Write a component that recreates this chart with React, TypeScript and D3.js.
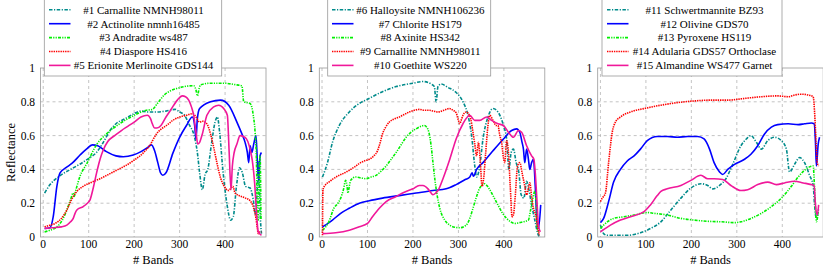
import * as d3 from 'd3';
import { useEffect, useRef } from 'react';

type Pt = [number, number];

// band index, reflectance
const carnallite1: Pt[] = [[3,0.26],[15,0.31],[33,0.355],[60,0.40],[80,0.43],[100,0.465],[117,0.50],[130,0.55],[147,0.63],[160,0.67],[180,0.70],[200,0.73],[215,0.745],[230,0.74],[250,0.74],[270,0.745],[290,0.755],[300,0.74],[311,0.72],[322,0.66],[332,0.60],[339,0.50],[344,0.38],[350,0.28],[356,0.37],[362,0.40],[370,0.55],[378,0.68],[383,0.71],[388,0.62],[395,0.40],[405,0.18],[412,0.10],[418,0.12],[425,0.30],[432,0.41],[438,0.38],[445,0.30],[455,0.29],[462,0.22],[467,0.13],[471,0.30],[474,0.45],[477,0.15],[480,0.02]];
const actinolite: Pt[] = [[3,0.05],[15,0.055],[22,0.12],[30,0.30],[37,0.38],[50,0.41],[63,0.435],[81,0.485],[95,0.52],[108,0.545],[120,0.54],[139,0.505],[160,0.48],[176,0.475],[198,0.485],[215,0.505],[230,0.53],[238,0.545],[245,0.51],[252,0.44],[258,0.38],[263,0.365],[270,0.38],[285,0.495],[300,0.59],[315,0.66],[328,0.71],[333,0.66],[336,0.58],[339,0.70],[344,0.76],[368,0.80],[390,0.81],[408,0.78],[426,0.68],[437,0.61],[444,0.56],[449,0.50],[452,0.44],[455,0.54],[459,0.50],[463,0.55],[468,0.60],[471,0.45],[474,0.33],[477,0.48],[480,0.50]];
const andradite: Pt[] = [[3,0.03],[15,0.04],[30,0.06],[42,0.10],[52,0.16],[60,0.22],[66,0.26],[68,0.24],[72,0.28],[81,0.36],[96,0.435],[117,0.545],[139,0.61],[168,0.67],[200,0.72],[227,0.75],[240,0.755],[251,0.79],[266,0.84],[280,0.865],[295,0.88],[331,0.895],[336,0.87],[339,0.835],[343,0.88],[346,0.90],[368,0.91],[397,0.91],[426,0.90],[437,0.895],[441,0.80],[455,0.79],[462,0.72],[466,0.62],[469,0.45],[471,0.15],[473,0.10],[475,0.40],[477,0.48],[479,0.10]];
const diaspore: Pt[] = [[3,0.06],[15,0.07],[26,0.08],[40,0.11],[52,0.16],[62,0.22],[74,0.27],[88,0.30],[103,0.32],[125,0.345],[147,0.375],[165,0.40],[183,0.425],[200,0.455],[219,0.495],[235,0.545],[249,0.61],[260,0.64],[271,0.66],[285,0.69],[300,0.71],[315,0.72],[329,0.73],[336,0.71],[344,0.68],[350,0.685],[356,0.68],[362,0.66],[368,0.61],[375,0.53],[382,0.44],[390,0.35],[397,0.305],[408,0.275],[413,0.29],[417,0.30],[422,0.26],[431,0.245],[445,0.23],[455,0.215],[463,0.17],[468,0.11],[471,0.05],[473,0.02],[476,0.03],[480,0.03]];
const erionite: Pt[] = [[3,0.05],[20,0.055],[40,0.06],[52,0.07],[60,0.09],[66,0.11],[70,0.14],[74,0.16],[88,0.18],[97,0.20],[103,0.22],[110,0.29],[117,0.375],[125,0.46],[132,0.515],[142,0.565],[157,0.60],[172,0.63],[186,0.655],[200,0.68],[215,0.71],[229,0.72],[236,0.70],[240,0.67],[245,0.645],[250,0.645],[259,0.66],[270,0.71],[280,0.75],[295,0.81],[306,0.835],[313,0.83],[320,0.81],[326,0.77],[331,0.72],[336,0.62],[340,0.55],[344,0.56],[350,0.61],[360,0.72],[375,0.77],[386,0.78],[397,0.76],[405,0.72],[409,0.50],[413,0.28],[416,0.42],[420,0.50],[426,0.55],[433,0.60],[444,0.59],[455,0.52],[460,0.45],[465,0.32],[469,0.15],[473,0.03],[480,0.01]];

const halloysite: Pt[] = [[1,0.355],[12,0.44],[23,0.56],[38,0.66],[60,0.74],[82,0.79],[100,0.815],[133,0.86],[163,0.89],[200,0.91],[222,0.92],[240,0.905],[247,0.89],[251,0.80],[255,0.89],[262,0.905],[277,0.885],[295,0.855],[310,0.80],[321,0.72],[329,0.60],[336,0.42],[340,0.355],[347,0.42],[354,0.58],[365,0.71],[376,0.76],[387,0.74],[399,0.66],[406,0.58],[411,0.40],[416,0.50],[421,0.52],[427,0.44],[433,0.38],[438,0.25],[444,0.23],[450,0.33],[455,0.28],[461,0.19],[468,0.10],[476,0.01],[481,0.0]];
const chlorite: Pt[] = [[1,0.06],[10,0.075],[23,0.10],[41,0.14],[60,0.17],[82,0.20],[104,0.215],[133,0.23],[170,0.245],[207,0.26],[244,0.275],[273,0.285],[295,0.31],[315,0.34],[325,0.355],[330,0.38],[333,0.36],[340,0.40],[354,0.44],[376,0.51],[399,0.58],[417,0.63],[428,0.64],[435,0.62],[440,0.56],[443,0.52],[446,0.44],[450,0.52],[454,0.46],[457,0.40],[461,0.44],[465,0.46],[469,0.30],[472,0.13],[476,0.05],[481,0.19]];
const axinite: Pt[] = [[1,0.04],[15,0.09],[26,0.17],[35,0.20],[41,0.23],[47,0.28],[52,0.335],[55,0.30],[57,0.26],[60,0.30],[63,0.335],[74,0.355],[85,0.35],[96,0.345],[108,0.355],[119,0.365],[130,0.39],[141,0.42],[152,0.46],[163,0.50],[175,0.55],[185,0.59],[196,0.62],[207,0.64],[218,0.655],[225,0.66],[230,0.65],[235,0.62],[240,0.54],[244,0.44],[248,0.345],[253,0.25],[259,0.17],[270,0.10],[281,0.07],[292,0.058],[303,0.055],[317,0.07],[325,0.11],[332,0.17],[340,0.24],[347,0.29],[353,0.31],[358,0.315],[364,0.30],[369,0.28],[378,0.235],[387,0.19],[396,0.145],[406,0.11],[415,0.09],[424,0.08],[434,0.085],[443,0.09],[454,0.10],[458,0.15],[463,0.22],[468,0.27],[471,0.20],[474,0.04],[478,0.03]];
const carnallite2: Pt[] = [[1,0.01],[2,0.28],[8,0.31],[15,0.325],[25,0.345],[38,0.365],[50,0.38],[60,0.395],[72,0.415],[82,0.435],[93,0.45],[104,0.46],[114,0.48],[122,0.51],[128,0.56],[133,0.61],[140,0.65],[148,0.68],[160,0.70],[170,0.71],[181,0.725],[192,0.74],[203,0.75],[214,0.755],[225,0.75],[236,0.75],[245,0.745],[255,0.74],[268,0.75],[280,0.76],[288,0.75],[295,0.735],[300,0.69],[303,0.67],[306,0.69],[310,0.72],[317,0.74],[322,0.73],[327,0.70],[332,0.62],[336,0.55],[340,0.48],[344,0.56],[348,0.45],[352,0.30],[356,0.36],[360,0.50],[365,0.66],[369,0.72],[376,0.69],[383,0.66],[387,0.66],[391,0.60],[395,0.56],[399,0.47],[402,0.44],[406,0.57],[410,0.50],[414,0.30],[418,0.12],[421,0.13],[425,0.24],[430,0.42],[435,0.44],[440,0.38],[446,0.30],[450,0.25],[454,0.29],[457,0.32],[461,0.24],[465,0.17],[470,0.13],[474,0.06],[478,0.01]];
const goethite: Pt[] = [[1,0.02],[30,0.025],[60,0.04],[82,0.06],[100,0.08],[111,0.12],[126,0.17],[141,0.21],[163,0.24],[181,0.265],[200,0.285],[214,0.305],[222,0.305],[233,0.285],[240,0.26],[244,0.25],[250,0.26],[255,0.275],[266,0.345],[281,0.46],[295,0.58],[310,0.67],[325,0.72],[336,0.69],[347,0.69],[362,0.71],[373,0.69],[387,0.67],[399,0.66],[410,0.62],[421,0.59],[432,0.63],[439,0.62],[450,0.54],[461,0.48],[466,0.46],[469,0.38],[472,0.25],[476,0.07],[480,0.03]];

const schwertmannite: Pt[] = [[0,0.07],[4,0.04],[7,0.02],[15,0.01],[29,0.01],[59,0.01],[88,0.025],[110,0.05],[133,0.09],[155,0.16],[177,0.23],[199,0.29],[221,0.315],[236,0.305],[247,0.285],[262,0.305],[276,0.345],[291,0.43],[309,0.54],[321,0.58],[331,0.60],[343,0.56],[354,0.52],[368,0.57],[383,0.59],[398,0.57],[409,0.52],[416,0.385],[427,0.43],[438,0.47],[449,0.44],[460,0.365],[468,0.305],[471,0.19],[475,0.11],[480,0.17]];
const olivine: Pt[] = [[0,0.085],[7,0.11],[18,0.21],[29,0.325],[44,0.40],[59,0.45],[74,0.48],[88,0.52],[103,0.57],[125,0.595],[147,0.595],[169,0.59],[192,0.595],[214,0.595],[228,0.58],[240,0.52],[250,0.44],[262,0.385],[269,0.37],[280,0.40],[295,0.43],[317,0.46],[331,0.49],[346,0.54],[361,0.61],[376,0.65],[390,0.665],[413,0.67],[435,0.665],[449,0.67],[464,0.675],[470,0.67],[473,0.56],[475,0.42],[479,0.55],[482,0.59]];
const pyroxene: Pt[] = [[0,0.05],[7,0.07],[29,0.11],[52,0.12],[74,0.13],[103,0.145],[118,0.14],[147,0.13],[177,0.11],[206,0.10],[236,0.093],[265,0.09],[295,0.085],[309,0.09],[331,0.11],[354,0.14],[376,0.18],[398,0.23],[420,0.30],[435,0.355],[449,0.395],[460,0.415],[468,0.42],[471,0.29],[475,0.09],[479,0.15]];
const adularia: Pt[] = [[0,0.21],[4,0.23],[11,0.26],[18,0.44],[26,0.62],[33,0.68],[44,0.71],[66,0.74],[96,0.76],[133,0.78],[169,0.795],[206,0.805],[243,0.81],[280,0.81],[317,0.82],[354,0.83],[390,0.835],[413,0.83],[427,0.84],[442,0.845],[457,0.84],[468,0.83],[471,0.74],[474,0.58],[477,0.44],[480,0.42]];
const almandine: Pt[] = [[0,0.03],[22,0.07],[44,0.10],[66,0.12],[96,0.15],[110,0.19],[125,0.245],[133,0.27],[147,0.285],[177,0.305],[199,0.335],[221,0.365],[236,0.345],[250,0.345],[269,0.34],[287,0.305],[309,0.275],[324,0.28],[346,0.31],[368,0.325],[387,0.31],[405,0.32],[427,0.33],[446,0.32],[464,0.31],[470,0.305],[473,0.19],[477,0.13],[480,0.19]];

const names1 = ['#1 Carnallite NMNH98011', '#2 Actinolite nmnh16485', '#3 Andradite ws487', '#4 Diaspore HS416', '#5 Erionite Merlinoite GDS144'];
const names2 = ['#6 Halloysite NMNH106236', '#7 Chlorite HS179', '#8 Axinite HS342', '#9 Carnallite NMNH98011', '#10 Goethite WS220'];
const names3 = ['#11 Schwertmannite BZ93', '#12 Olivine GDS70', '#13 Pyroxene HS119', '#14 Adularia GDS57 Orthoclase', '#15 Almandine WS477 Garnet'];

const xTicks = [0, 100, 200, 300, 400];
const yTicks = [0, 0.2, 0.4, 0.6, 0.8, 1];

// line styles shared by every panel, one per legend row
const styles = [
  { color: '#008b8b', dash: '3.5,1.5,1.2,1.5' },
  { color: '#0000ff', dash: '' },
  { color: '#00f000', dash: '3,1.2,1.2,1.2,1.2,1.2' },
  { color: '#ff0000', dash: '1.4,0.9' },
  { color: '#f0189a', dash: '' },
];

const panels = [
  { left: 40.5, right: 266, series: [carnallite1, actinolite, andradite, diaspore, erionite], names: names1,
    legend: { x0: 44.3, x1: 221.7, l0: 49, l1: 70.5, tx: 143.5 } },
  { left: 319.3, right: 544.8, series: [halloysite, chlorite, axinite, carnallite2, goethite], names: names2,
    legend: { x0: 327.7, x1: 490.7, l0: 332, l1: 353.5, tx: 420.3 } },
  { left: 597.7, right: 823.2, series: [schwertmannite, olivine, pyroxene, adularia, almandine], names: names3,
    legend: { x0: 602, x1: 782, l0: 607, l1: 628.5, tx: 704.5 } },
];

const FONT = '"Liberation Serif", serif';
const LW = 1.6;

export default function App() {
  const svgRef = useRef<SVGSVGElement>(null);

  useEffect(() => {
    if (!svgRef.current) return;
    const svg = d3.select(svgRef.current);
    svg.selectAll('*').remove();

    const y = d3.scaleLinear().domain([0, 1]).range([237, 68]);

    panels.forEach((p, pi) => {
      const x = d3.scaleLinear().domain([-6, 490]).range([p.left, p.right]);
      const g = svg.append('g');
      const clipId = `clip${pi}`;
      g.append('clipPath').attr('id', clipId).append('rect')
        .attr('x', p.left).attr('y', 68).attr('width', p.right - p.left).attr('height', 237 - 68);

      // grid
      g.selectAll('.gx').data(xTicks).join('line')
        .attr('x1', (d) => x(d)).attr('x2', (d) => x(d)).attr('y1', 68).attr('y2', 237)
        .attr('stroke', '#aaa').attr('stroke-width', 0.7).attr('stroke-dasharray', '3,3');
      g.selectAll('.gy').data(yTicks.slice(1, -1)).join('line')
        .attr('x1', p.left).attr('x2', p.right).attr('y1', (d) => y(d)).attr('y2', (d) => y(d))
        .attr('stroke', '#aaa').attr('stroke-width', 0.7).attr('stroke-dasharray', '3,3');

      // series
      const line = d3.line<Pt>().x((d) => x(d[0])).y((d) => y(d[1])).curve(d3.curveMonotoneX);
      const lines = g.append('g').attr('clip-path', `url(#${clipId})`);
      p.series.forEach((s, i) => {
        lines.append('path').attr('d', line(s)).attr('fill', 'none')
          .attr('stroke', styles[i].color).attr('stroke-width', LW)
          .attr('stroke-dasharray', styles[i].dash || null).attr('stroke-linejoin', 'round');
      });

      // frame
      g.append('rect').attr('x', p.left).attr('y', 68).attr('width', p.right - p.left).attr('height', 237 - 68)
        .attr('fill', 'none').attr('stroke', '#999').attr('stroke-width', 0.8);

      // tick labels
      g.selectAll('.tx').data(xTicks).join('text')
        .attr('x', (d) => x(d)).attr('y', 248.3).attr('text-anchor', 'middle')
        .style('font-family', FONT).style('font-size', '11.5px').text((d) => String(d));
      g.selectAll('.ty').data(yTicks).join('text')
        .attr('x', p.left - 5.5).attr('y', (d) => y(d) + 4).attr('text-anchor', 'end')
        .style('font-family', FONT).style('font-size', '11.5px').text((d) => String(d));

      g.append('text').attr('x', (p.left + p.right) / 2).attr('y', 264.3).attr('text-anchor', 'middle')
        .style('font-family', FONT).style('font-size', '12.5px').text('# Bands');

      // legend
      const L = p.legend;
      g.append('rect').attr('x', L.x0).attr('y', -0.5).attr('width', L.x1 - L.x0).attr('height', 76.5)
        .attr('fill', '#fff').attr('stroke', '#999').attr('stroke-width', 0.8);
      p.names.forEach((n, i) => {
        const ry = 9.8 + i * 13.9;
        g.append('line').attr('x1', L.l0).attr('x2', L.l1).attr('y1', ry).attr('y2', ry)
          .attr('stroke', styles[i].color).attr('stroke-width', LW)
          .attr('stroke-dasharray', styles[i].dash || null);
        g.append('text').attr('x', L.tx).attr('y', ry + 3.8).attr('text-anchor', 'middle')
          .style('font-family', FONT).style('font-size', '11px').text(n);
      });
    });

    svg.append('text').attr('transform', 'translate(15,152.5) rotate(-90)').attr('text-anchor', 'middle')
      .style('font-family', FONT).style('font-size', '12.5px').text('Reflectance');
  }, []);

  return <svg ref={svgRef} width={823} height={268} style={{ position: 'absolute', left: 0, top: 0 }} />;
}
